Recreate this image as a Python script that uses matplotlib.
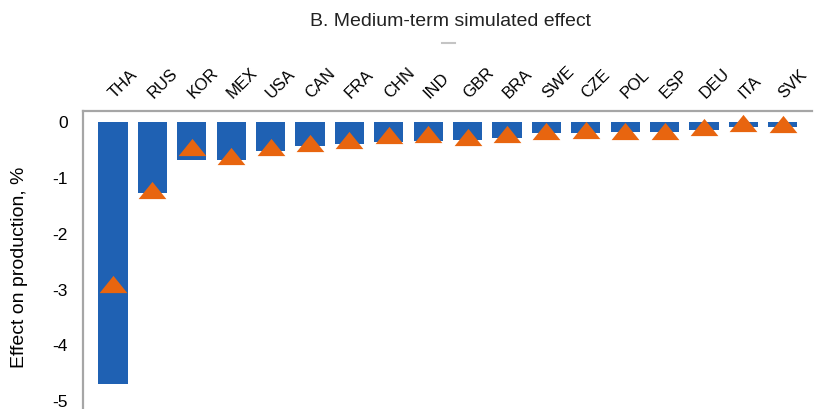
import matplotlib
matplotlib.use("Agg")
import matplotlib.pyplot as plt
import matplotlib.transforms as mtransforms
from matplotlib.path import Path
from matplotlib.lines import Line2D

plt.rcParams['font.family'] = ['Liberation Sans', 'DejaVu Sans']

countries = ["THA", "RUS", "KOR", "MEX", "USA", "CAN", "FRA", "CHN", "IND",
             "GBR", "BRA", "SWE", "CZE", "POL", "ESP", "DEU", "ITA", "SVK"]
bar_values = [-4.70, -1.27, -0.67, -0.67, -0.51, -0.42, -0.39, -0.36, -0.34,
              -0.32, -0.29, -0.20, -0.20, -0.18, -0.18, -0.14, -0.08, -0.08]
marker_values = [-2.90, -1.21, -0.44, -0.60, -0.44, -0.37, -0.32, -0.23, -0.22,
                 -0.26, -0.22, -0.15, -0.14, -0.16, -0.15, -0.08, -0.02, -0.03]
y_ticks = [0, -1, -2, -3, -4, -5]

BLUE = "#1f61b3"
ORANGE = "#e8650f"
SPINE = "#a6a6a6"

fig = plt.figure(figsize=(8.15, 4.09), dpi=100)
ax = fig.add_axes([83 / 815, 0.0, (812 - 83) / 815, 1 - 111 / 409])

x = range(len(countries))
ax.bar(x, bar_values, width=0.74, color=BLUE, zorder=2)

# wide, flat triangle marker
tri = Path([(-1, -0.62), (1, -0.62), (0, 0.62), (-1, -0.62)],
           [Path.MOVETO, Path.LINETO, Path.LINETO, Path.CLOSEPOLY])
ax.plot(x, marker_values, linestyle="none", marker=tri, markersize=20,
        color=ORANGE, markeredgewidth=0, zorder=3)

ax.set_xlim(-0.76, len(countries) - 1 + 0.74)
ax.set_ylim(-5.14, 0.2)

ax.xaxis.tick_top()
ax.set_xticks(list(x))
ax.set_xticklabels(countries, rotation=45, ha="left", va="bottom",
                   rotation_mode="default", fontsize=12)
ax.tick_params(axis="x", length=0, pad=7)
shift = mtransforms.ScaledTranslation(-7 / 100, 0, fig.dpi_scale_trans)
for lab in ax.get_xticklabels():
    lab.set_transform(lab.get_transform() + shift)

ax.set_yticks(y_ticks)
ax.set_yticklabels([str(v) for v in y_ticks], fontsize=12.5)
ax.tick_params(axis="y", length=0, pad=11)

for side in ("right", "bottom"):
    ax.spines[side].set_visible(False)
for side in ("top", "left"):
    ax.spines[side].set_color(SPINE)
    ax.spines[side].set_linewidth(1.6)

ax.set_ylabel("Effect on production, %", fontsize=14)
ax.yaxis.set_label_coords(-55 / 729, 0.476)

fig.text(450 / 815, 1 - 21 / 409, "B. Medium-term simulated effect",
         ha="center", va="center", fontsize=14, color="#222222")
fig.add_artist(Line2D([442 / 815, 455 / 815], [1 - 43 / 409, 1 - 43 / 409],
                      color="#c4c4c4", lw=1.5))

fig.savefig("out.png", dpi=100)
